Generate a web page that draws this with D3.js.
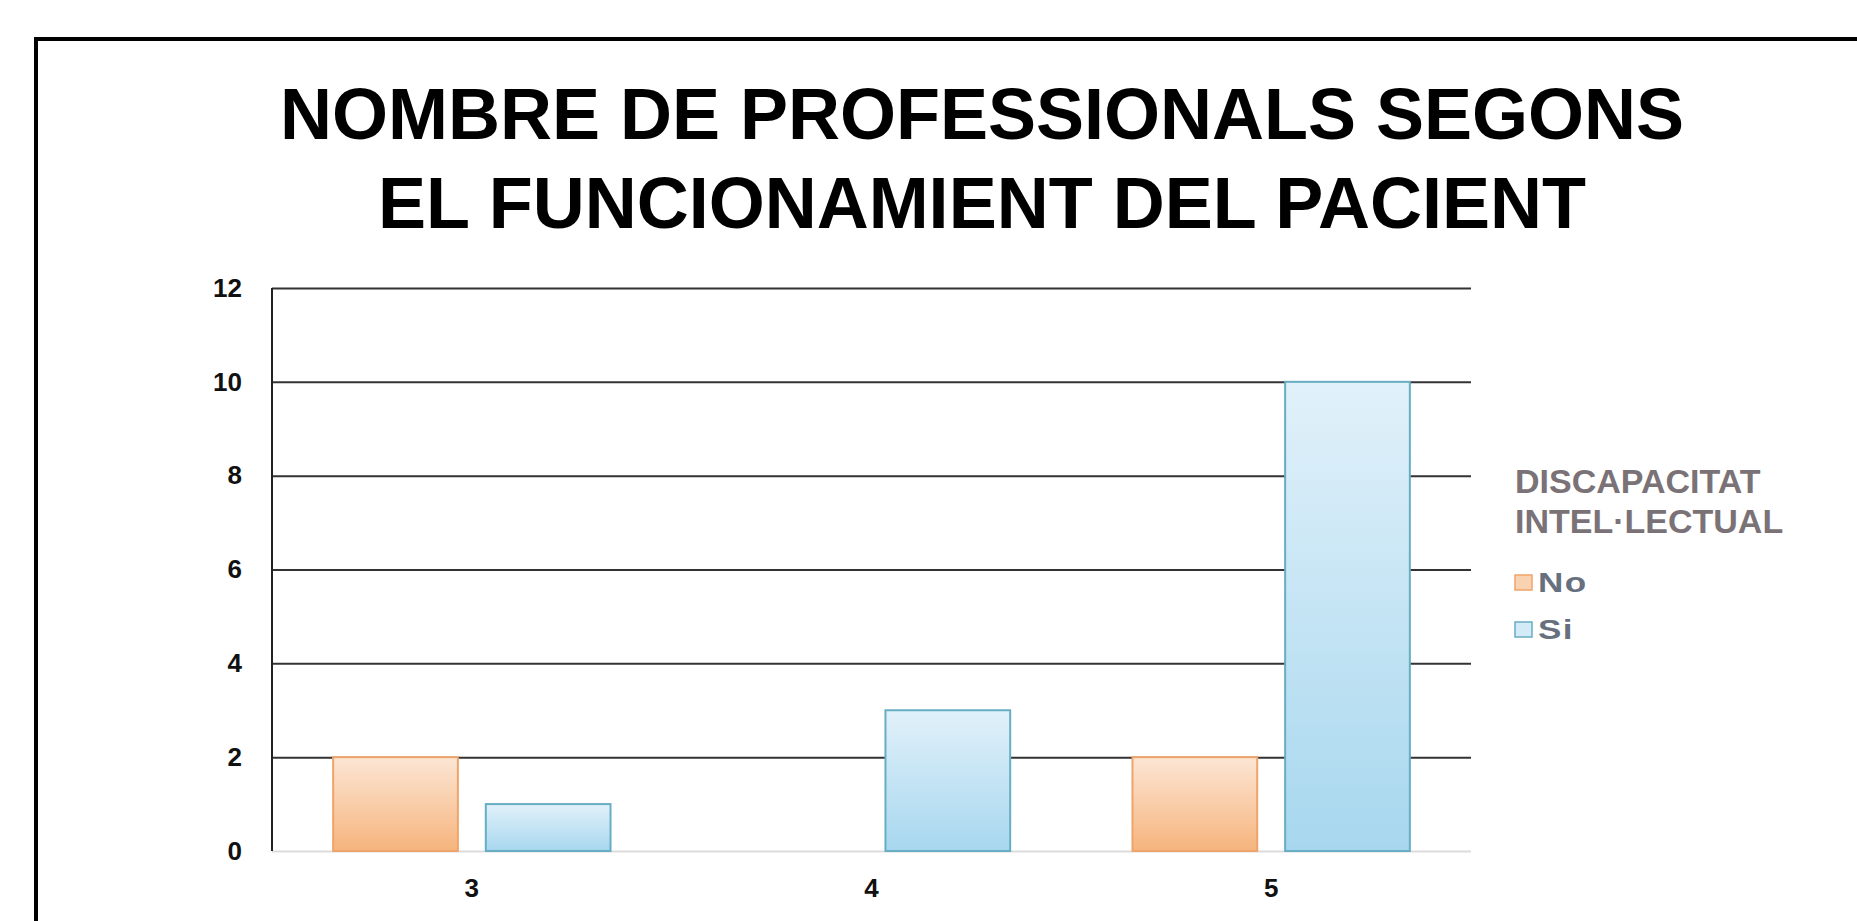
<!DOCTYPE html>
<html>
<head>
    <meta charset="UTF-8">
    <script src="https://cdn.jsdelivr.net/npm/d3@7"></script>
    <style>
        body { margin: 0; background: #fff; }
        svg { display: block; font-family: "Liberation Sans", Arial, sans-serif; }
    </style>
</head>
<body>
<svg id="chart" width="1857" height="921"></svg>
<script>

// dades
const categories = ["3", "4", "5"];
const seriesNames = ["No", "Si"];
const valuesNo = [2, 0, 2];
const valuesSi = [1, 3, 10];
const yTicks = [0, 2, 4, 6, 8, 10, 12];
const titleLines = ["NOMBRE DE PROFESSIONALS SEGONS", "EL FUNCIONAMIENT DEL PACIENT"];
const legendTitle = ["DISCAPACITAT", "INTEL·LECTUAL"];

const svg = d3.select("#chart");

// marc exterior (només esquerra i dalt)
svg.append("path")
    .attr("d", "M36,921 L36,39 L1857,39")
    .attr("fill", "none")
    .attr("stroke", "#000")
    .attr("stroke-width", 4);

// títol
svg.append("g").selectAll("text")
    .data(titleLines)
    .join("text")
    .attr("x", 982)
    .attr("y", (d, i) => 139 + i * 89)
    .attr("text-anchor", "middle")
    .attr("font-size", 72)
    .attr("font-weight", "bold")
    .attr("fill", "#000")
    .text(d => d);

// àrea del gràfic
const plotL = 272, plotR = 1471, plotT = 288, plotB = 851;

const x0 = d3.scaleBand().domain(categories).range([plotL, plotR]).padding(0);
const bw = x0.bandwidth();
const x1 = d3.scaleBand().domain(seriesNames).range([bw * 0.153, bw * 0.847]).paddingInner(0.183);
const y = d3.scaleLinear().domain([0, 12]).range([plotB, plotT]);

// gradients
const defs = svg.append("defs");
function grad(id, c0, c1) {
    const g = defs.append("linearGradient").attr("id", id)
        .attr("x1", 0).attr("y1", 0).attr("x2", 0).attr("y2", 1);
    g.append("stop").attr("offset", "0%").attr("stop-color", c0);
    g.append("stop").attr("offset", "100%").attr("stop-color", c1);
}
grad("gNo", "#fce6d5", "#f6b47c");
grad("gSi", "#e1f1fa", "#a7d7ee");

const fills = { No: "url(#gNo)", Si: "url(#gSi)" };
const strokes = { No: "#eea46a", Si: "#67adc3" };

// eix Y + línies de graella
const yAxis = svg.append("g")
    .attr("transform", `translate(${plotL},0)`)
    .call(d3.axisLeft(y).tickValues(yTicks).tickSize(-(plotR - plotL)).tickPadding(30));
yAxis.select(".domain").remove();
yAxis.selectAll(".tick line")
    .attr("stroke", d => d === 0 ? "#dcdcdc" : "#333")
    .attr("stroke-width", 2);
yAxis.selectAll(".tick text")
    .attr("font-size", 26)
    .attr("font-weight", "bold")
    .attr("fill", "#111")
    .attr("font-family", "'Liberation Sans', Arial, sans-serif");

// línia vertical esquerra
svg.append("line")
    .attr("x1", plotL).attr("x2", plotL)
    .attr("y1", y(12)).attr("y2", y(0))
    .attr("stroke", "#222")
    .attr("stroke-width", 2);

// barres
const rows = categories.map((c, i) => ({ cat: c, No: valuesNo[i], Si: valuesSi[i] }));

svg.append("g").selectAll("g")
    .data(rows)
    .join("g")
    .attr("transform", d => `translate(${x0(d.cat)},0)`)
    .selectAll("rect")
    .data(d => seriesNames.map(k => ({ key: k, value: d[k] })).filter(e => e.value > 0))
    .join("rect")
    .attr("x", d => x1(d.key))
    .attr("y", d => y(d.value))
    .attr("width", x1.bandwidth())
    .attr("height", d => y(0) - y(d.value))
    .attr("fill", d => fills[d.key])
    .attr("stroke", d => strokes[d.key])
    .attr("stroke-width", 2);

// eix X
const xAxis = svg.append("g")
    .attr("transform", `translate(0,${plotB})`)
    .call(d3.axisBottom(x0).tickSize(0).tickPadding(28));
xAxis.select(".domain").remove();
xAxis.selectAll(".tick text")
    .attr("font-size", 26)
    .attr("font-weight", "bold")
    .attr("fill", "#111")
    .attr("font-family", "'Liberation Sans', Arial, sans-serif");

// llegenda
const legend = svg.append("g").attr("transform", "translate(1515,0)");
legend.selectAll("text.lt")
    .data(legendTitle)
    .join("text")
    .attr("class", "lt")
    .attr("x", 0)
    .attr("y", (d, i) => 493 + i * 40)
    .attr("font-size", 34)
    .attr("font-weight", "bold")
    .attr("fill", "#7a7276")
    .text(d => d);

const legendFill = { No: "#f9d2b2", Si: "#d2ebf6" };
const items = legend.selectAll("g.item")
    .data(seriesNames)
    .join("g")
    .attr("class", "item")
    .attr("transform", (d, i) => `translate(0,${575 + i * 47})`);
items.append("rect")
    .attr("width", 17).attr("height", 15)
    .attr("fill", d => legendFill[d])
    .attr("stroke", d => strokes[d])
    .attr("stroke-width", 1.5);
items.append("text")
    .attr("transform", "translate(23,17) scale(1.3,1)")
    .attr("font-size", 27)
    .attr("font-weight", "bold")
    .attr("letter-spacing", 1)
    .attr("fill", "#66707e")
    .text(d => d);

</script>
</body>
</html>
